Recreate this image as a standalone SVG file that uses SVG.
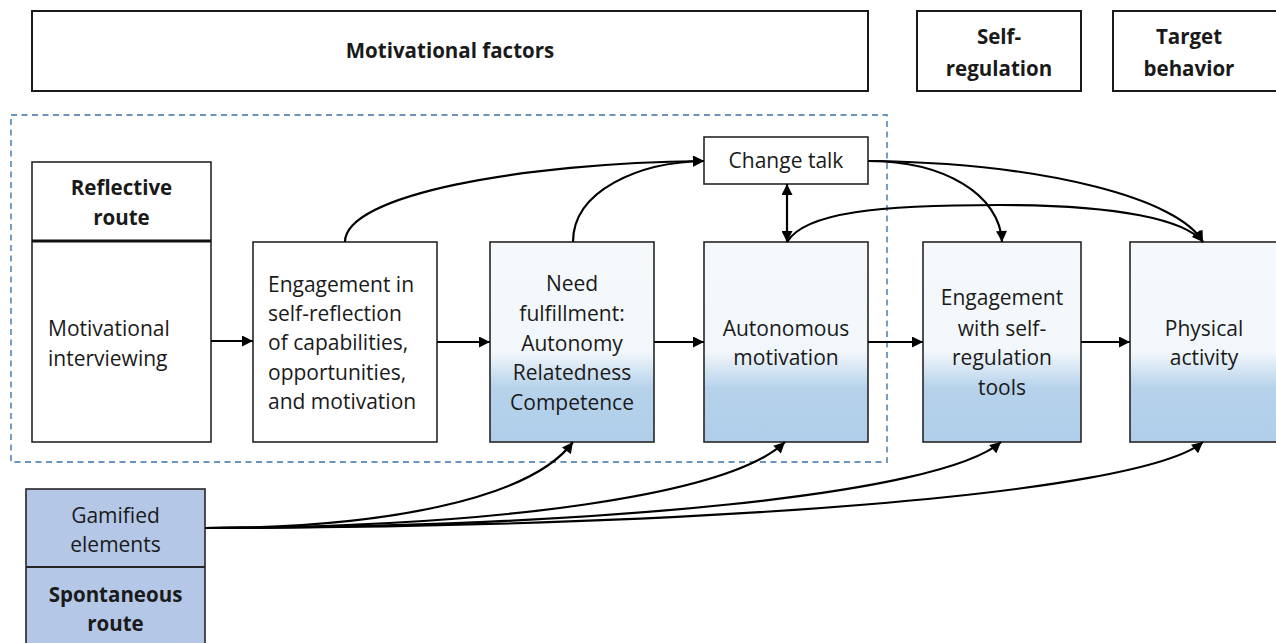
<svg xmlns="http://www.w3.org/2000/svg" width="1276" height="643" viewBox="0 0 1276 643">
<defs>
<style>
.box{fill:#fff;stroke:#262626;stroke-width:1.6}
.hdr{fill:#fff;stroke:#1a1a1a;stroke-width:2}
.blue{fill:url(#g);stroke:#262626;stroke-width:1.6}
.gam{fill:#b4c7e7;stroke:#262626;stroke-width:1.6}
.t{font-family:"Open Sans","Noto Sans","Liberation Sans",sans-serif;font-size:21px;fill:#1a1a1a}
.c{text-anchor:middle}
.b{font-weight:bold;font-size:20.5px}
.e{fill:none;stroke:#000;stroke-width:2.2}
</style>
<linearGradient id="g" x1="0" y1="0" x2="0" y2="1">
<stop offset="0" stop-color="#f5f9fc"/>
<stop offset="0.55" stop-color="#f2f7fb"/>
<stop offset="0.73" stop-color="#b6d2eb"/>
<stop offset="1" stop-color="#b0cee9"/>
</linearGradient>
<marker id="a" viewBox="0 0 10 10" refX="10" refY="5" markerWidth="12" markerHeight="11" markerUnits="userSpaceOnUse" orient="auto-start-reverse">
<path d="M0,0 L10,5 L0,10 z" fill="#000"/>
</marker>
</defs>

<g id="header-motivational">
<rect class="hdr" x="32" y="11" width="836" height="80"/>
<text class="t c b" x="450" y="58">Motivational factors</text>
</g>
<g id="header-selfregulation">
<rect class="hdr" x="917" y="11" width="164" height="80"/>
<text class="t c b" x="999" y="44">Self-</text>
<text class="t c b" x="999" y="76">regulation</text>
</g>
<g id="header-target">
<rect class="hdr" x="1113" y="11" width="170" height="80"/>
<text class="t c b" x="1189" y="44">Target</text>
<text class="t c b" x="1189" y="76">behavior</text>
</g>

<g id="reflective-region">
<rect x="11" y="115" width="876" height="347" fill="none" stroke="#6a93bd" stroke-width="1.8" stroke-dasharray="6,4.5"/>
</g>

<g id="reflective-route">
<rect class="box" x="32" y="162" width="179" height="280"/>
<line x1="32" y1="241" x2="211" y2="241" stroke="#111" stroke-width="3"/>
<text class="t c b" x="121.5" y="195">Reflective</text>
<text class="t c b" x="121.5" y="225">route</text>
<text class="t" x="48" y="336">Motivational</text>
<text class="t" x="48" y="366">interviewing</text>
</g>

<g id="engagement-reflection">
<rect class="box" x="253" y="242" width="184" height="200"/>
<text class="t" x="268" y="292">Engagement in</text>
<text class="t" x="268" y="321">self-reflection</text>
<text class="t" x="268" y="350">of capabilities,</text>
<text class="t" x="268" y="380">opportunities,</text>
<text class="t" x="268" y="409">and motivation</text>
</g>

<g id="need-fulfillment">
<rect class="blue" x="490" y="242" width="164" height="200"/>
<text class="t c" x="572" y="291">Need</text>
<text class="t c" x="572" y="321">fulfillment:</text>
<text class="t c" x="572" y="351">Autonomy</text>
<text class="t c" x="572" y="380">Relatedness</text>
<text class="t c" x="572" y="410">Competence</text>
</g>

<g id="autonomous-motivation">
<rect class="blue" x="704" y="242" width="164" height="200"/>
<text class="t c" x="786" y="336">Autonomous</text>
<text class="t c" x="786" y="365">motivation</text>
</g>

<g id="change-talk">
<rect class="box" x="704" y="137" width="164" height="47"/>
<text class="t c" x="786" y="168">Change talk</text>
</g>

<g id="engagement-tools">
<rect class="blue" x="923" y="242" width="158" height="200"/>
<text class="t c" x="1002" y="305">Engagement</text>
<text class="t c" x="1002" y="336">with self-</text>
<text class="t c" x="1002" y="365">regulation</text>
<text class="t c" x="1002" y="395">tools</text>
</g>

<g id="physical-activity">
<rect class="blue" x="1130" y="242" width="160" height="200"/>
<text class="t c" x="1204" y="336">Physical</text>
<text class="t c" x="1204" y="365">activity</text>
</g>

<g id="gamified-elements">
<rect class="gam" x="26" y="489" width="179" height="170"/>
<line x1="26" y1="567" x2="205" y2="567" stroke="#262626" stroke-width="1.8"/>
<text class="t c" x="115.5" y="523">Gamified</text>
<text class="t c" x="115.5" y="552">elements</text>
<text class="t c b" x="115.5" y="602">Spontaneous</text>
<text class="t c b" x="115.5" y="631">route</text>
</g>

<g id="connectors">
<line class="e" x1="211" y1="341" x2="253" y2="341" marker-end="url(#a)"/>
<line class="e" x1="437" y1="342" x2="490" y2="342" marker-end="url(#a)"/>
<line class="e" x1="654" y1="342" x2="704" y2="342" marker-end="url(#a)"/>
<line class="e" x1="868" y1="342" x2="923" y2="342" marker-end="url(#a)"/>
<line class="e" x1="1081" y1="342" x2="1130" y2="342" marker-end="url(#a)"/>
<path class="e" d="M345,242 C345,195 520,163 704,161" marker-end="url(#a)"/>
<path class="e" d="M573,242 C573,190 640,162 704,161" marker-end="url(#a)"/>
<line class="e" x1="787" y1="184" x2="787" y2="242" marker-start="url(#a)" marker-end="url(#a)"/>
<path class="e" d="M868,161 C945,161 1000,195 1002,242" marker-end="url(#a)"/>
<path class="e" d="M868,161 C1050,163 1180,200 1203,242" marker-end="url(#a)"/>
<path class="e" d="M787,242 C805,212 880,205 1000,205 C1120,205 1185,220 1203,242" marker-end="url(#a)"/>
<path class="e" d="M205,528 C380,528 530,500 573,442" marker-end="url(#a)"/>
<path class="e" d="M205,528 C500,527 730,495 785,442" marker-end="url(#a)"/>
<path class="e" d="M205,528 C600,527 940,495 1001,442" marker-end="url(#a)"/>
<path class="e" d="M205,528 C700,527 1140,495 1203,442" marker-end="url(#a)"/>
</g>
</svg>
